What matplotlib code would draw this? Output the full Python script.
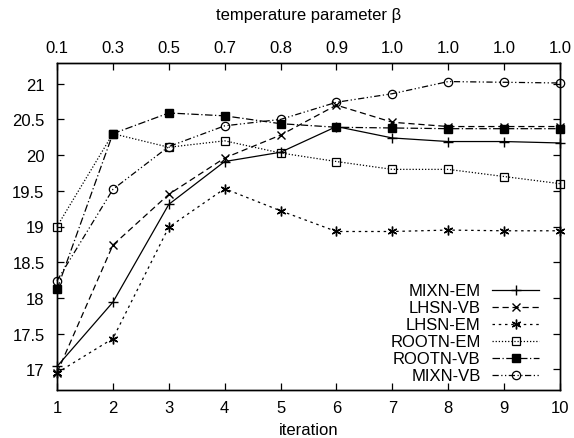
import matplotlib
matplotlib.use("Agg")
import matplotlib.pyplot as plt

plt.rcParams['font.family'] = ['Liberation Sans', 'DejaVu Sans']
plt.rcParams['font.size'] = 12

#iterations and the temperature parameter shown on the top axis
iterations = [1, 2, 3, 4, 5, 6, 7, 8, 9, 10]
beta_labels = ['0.1', '0.3', '0.5', '0.7', '0.8', '0.9', '1.0', '1.0', '1.0', '1.0']

#values
mixn_em = [17.04, 17.94, 19.31, 19.91, 20.04, 20.40, 20.24, 20.19, 20.19, 20.17]
lhsn_vb = [16.95, 18.74, 19.45, 19.96, 20.28, 20.70, 20.46, 20.40, 20.40, 20.40]
lhsn_em = [16.95, 17.43, 18.99, 19.53, 19.22, 18.93, 18.93, 18.95, 18.94, 18.94]
rootn_em = [19.00, 20.30, 20.11, 20.20, 20.03, 19.91, 19.80, 19.80, 19.70, 19.60]
rootn_vb = [18.12, 20.30, 20.59, 20.55, 20.44, 20.39, 20.38, 20.37, 20.37, 20.37]
mixn_vb = [18.24, 19.52, 20.12, 20.41, 20.50, 20.74, 20.86, 21.03, 21.02, 21.01]

fig = plt.figure(figsize=(5.74, 4.39), dpi=100)
ax = fig.add_axes([57/574, 48/439, 503/574, 327/439])

lw = 0.9
ms = 6
ax.plot(iterations, mixn_em, color='k', lw=lw, ls='-', marker='+', ms=ms+1,
        label='MIXN-EM', clip_on=False)
ax.plot(iterations, lhsn_vb, color='k', lw=lw, ls=(0, (5, 3)), marker='x', ms=ms,
        label='LHSN-VB', clip_on=False)
ax.plot(iterations, lhsn_em, color='k', lw=lw, ls=(0, (2, 3)), marker=(6, 2, 0), ms=ms+1,
        label='LHSN-EM', clip_on=False)
ax.plot(iterations, rootn_em, color='k', lw=lw, ls=(0, (1, 1.5)), marker='s', ms=ms,
        mfc='none', mew=0.9, label='ROOTN-EM', clip_on=False)
ax.plot(iterations, rootn_vb, color='k', lw=lw, ls=(0, (6, 2, 1, 2)), marker='s', ms=ms,
        mfc='k', label='ROOTN-VB', clip_on=False)
ax.plot(iterations, mixn_vb, color='k', lw=lw, ls=(0, (5, 2, 1, 2, 1, 2)), marker='o', ms=ms,
        mfc='none', mew=0.9, label='MIXN-VB', clip_on=False)

ax.set_xlim(1, 10)
ax.set_ylim(16.71, 21.29)
ax.set_xticks(iterations)
ax.set_yticks([17, 17.5, 18, 18.5, 19, 19.5, 20, 20.5, 21])
ax.set_yticklabels(['17', '17.5', '18', '18.5', '19', '19.5', '20', '20.5', '21'])
ax.tick_params(direction='in', length=5, width=0.9, right=True, pad=7)
ax.tick_params(axis='y', pad=9)
ax.set_xlabel('iteration', labelpad=5)

top = ax.twiny()
top.set_xlim(ax.get_xlim())
top.set_xticks(iterations)
top.set_xticklabels(beta_labels)
top.tick_params(direction='in', length=5, width=0.9, pad=6)
top.set_xlabel('temperature parameter β', labelpad=15)

for a in (ax, top):
    for s in a.spines.values():
        s.set_linewidth(1.0)

leg = ax.legend(loc='lower right', markerfirst=False, frameon=False,
                handlelength=2.8, handletextpad=0.7, labelspacing=0.12,
                bbox_to_anchor=(0.958, 0.02), borderaxespad=0.0, borderpad=0.0)

fig.savefig('out.png', dpi=100)
